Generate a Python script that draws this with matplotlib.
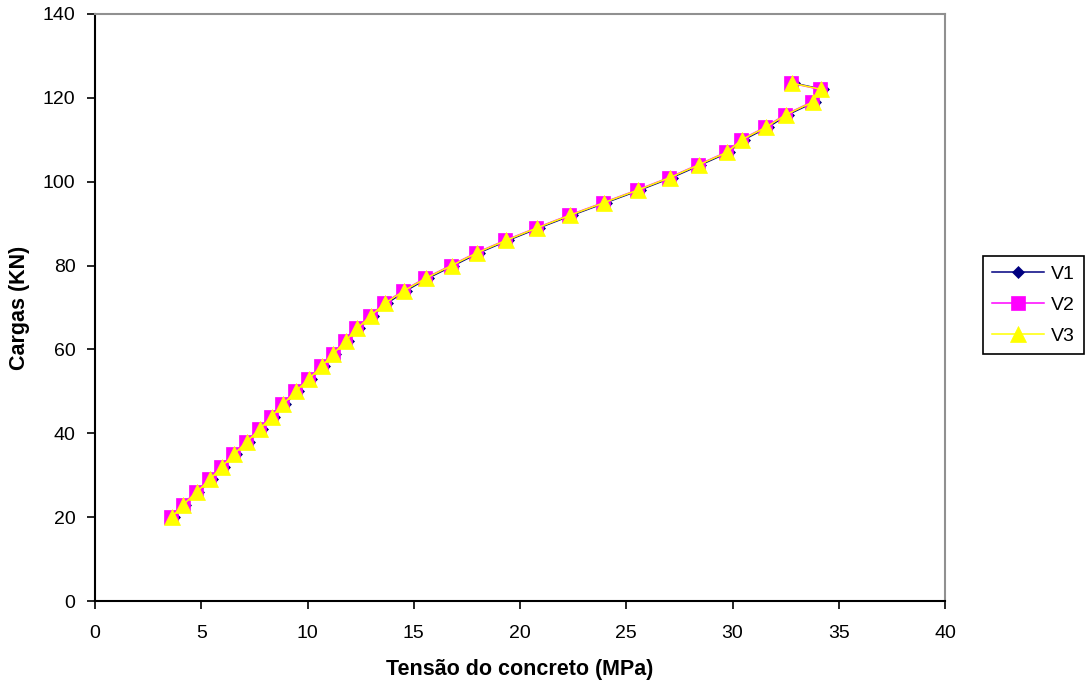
import matplotlib
matplotlib.use("Agg")
import matplotlib.pyplot as plt

plt.rcParams['font.family'] = ['Liberation Sans', 'DejaVu Sans']

# Load steps (kN)
cargas = [20, 23, 26, 29, 32, 35, 38, 41, 44, 47, 50, 53, 56, 59, 62, 65, 68,
          71, 74, 77, 80, 83, 86, 89, 92, 95, 98, 101, 104, 107, 110, 113,
          116, 119, 122, 123.5]

# Concrete stress (MPa) for each beam
tensao_v1 = [3.70, 4.25, 4.87, 5.50, 6.05, 6.63, 7.23, 7.85, 8.40, 8.95, 9.53,
             10.16, 10.76, 11.31, 11.89, 12.43, 13.06, 13.74, 14.63, 15.67,
             16.87, 18.05, 19.43, 20.90, 22.44, 24.04, 25.63, 27.15, 28.49,
             29.82, 30.52, 31.67, 32.61, 33.86, 34.27, 32.90]
tensao_v2 = [3.57, 4.12, 4.74, 5.37, 5.92, 6.50, 7.10, 7.72, 8.27, 8.82, 9.40,
             10.03, 10.63, 11.18, 11.76, 12.30, 12.93, 13.61, 14.50, 15.54,
             16.74, 17.92, 19.30, 20.77, 22.31, 23.91, 25.50, 27.02, 28.36,
             29.69, 30.39, 31.54, 32.48, 33.73, 34.14, 32.77]
tensao_v3 = [3.61, 4.16, 4.78, 5.41, 5.96, 6.54, 7.14, 7.76, 8.31, 8.86, 9.44,
             10.07, 10.67, 11.22, 11.80, 12.34, 12.97, 13.65, 14.54, 15.58,
             16.78, 17.96, 19.34, 20.81, 22.35, 23.95, 25.54, 27.06, 28.40,
             29.73, 30.43, 31.58, 32.52, 33.77, 34.18, 32.81]

series = [
    ("V1", tensao_v1, "#000080", "D", 6.0),
    ("V2", tensao_v2, "#FF00FF", "s", 9.5),
    ("V3", tensao_v3, "#FFFF00", "^", 11.0),
]

FS = 14

fig = plt.figure(figsize=(10.89, 6.90), dpi=100)
ax = fig.add_axes([95 / 1089, 1 - 601 / 690, 850 / 1089, 587 / 690])

for nome, tensao, cor, marca, tam in series:
    ax.plot(tensao, cargas, color=cor, linewidth=1.1, marker=marca,
            markersize=tam, markerfacecolor=cor, markeredgecolor=cor,
            markeredgewidth=0.5, label=nome)

ax.set_xlim(0, 40)
ax.set_ylim(0, 140)
ax.set_xticks(range(0, 41, 5))
ax.set_yticks(range(0, 141, 20))
ax.tick_params(axis='both', direction='out', length=6, width=1.2,
               labelsize=FS, color='black')
ax.tick_params(axis='x', pad=11)
ax.tick_params(axis='y', pad=8)

for lado in ('left', 'bottom'):
    ax.spines[lado].set_color('black')
    ax.spines[lado].set_linewidth(1.5)
for lado in ('top', 'right'):
    ax.spines[lado].set_color('#909090')
    ax.spines[lado].set_linewidth(1.5)

ax.set_xlabel('Tensão do concreto (MPa)', fontsize=15.5,
              fontweight='bold', va='center')
ax.xaxis.set_label_coords(0.5, (601 - 670) / 587)
ax.set_ylabel('Cargas (KN)', fontsize=15.5, fontweight='bold',
              va='center', ha='center')
ax.yaxis.set_label_coords((20 - 95) / 850, 0.5)

leg = ax.legend(loc='center left', frameon=True,
                fancybox=False, edgecolor='black', fontsize=FS,
                handlelength=2.7, borderpad=0.45, labelspacing=0.7,
                handletextpad=0.35, borderaxespad=0, framealpha=1)
leg.get_frame().set_linewidth(1.2)
leg.set_bbox_to_anchor((983 / 1089, 1 - 305 / 690), transform=fig.transFigure)

fig.savefig('out.png', dpi=100)
